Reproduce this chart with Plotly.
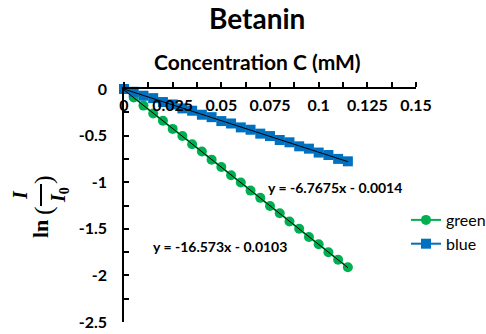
import plotly.graph_objects as go

# Concentration (mM) and ln(I/I0) readings for the two channels
conc = [0.000, 0.005, 0.010, 0.015, 0.020, 0.025, 0.030, 0.035, 0.040, 0.045,
        0.050, 0.055, 0.060, 0.065, 0.070, 0.075, 0.080, 0.085, 0.090, 0.095,
        0.100, 0.105, 0.110, 0.115]
green_vals = [0.000, -0.090, -0.178, -0.262, -0.340, -0.428, -0.505, -0.592,
              -0.670, -0.758, -0.836, -0.925, -1.003, -1.090, -1.168, -1.255,
              -1.334, -1.421, -1.500, -1.588, -1.665, -1.752, -1.832, -1.912]
blue_vals = [0.000, -0.030, -0.072, -0.098, -0.140, -0.166, -0.208, -0.233,
             -0.276, -0.302, -0.344, -0.370, -0.412, -0.437, -0.479, -0.505,
             -0.547, -0.572, -0.615, -0.640, -0.682, -0.708, -0.750, -0.776]

# Linear trendline coefficients (slope, intercept)
green_fit = (-16.573, -0.0103)
blue_fit = (-6.7675, -0.0014)

x_ticks = [0, 0.025, 0.05, 0.075, 0.1, 0.125, 0.15]
x_tick_text = ["0", "0.025", "0.05", "0.075", "0.1", "0.125", "0.15"]
y_ticks = [0, -0.5, -1, -1.5, -2, -2.5]
y_tick_text = ["0", "-0.5", "-1", "-1.5", "-2", "-2.5"]

W, H = 486, 334
L, R, T, B = 124, 70, 89, 12
PW, PH = W - L - R, H - T - B

GREEN = "#00B050"
BLUE = "#0070C0"
FONT = "Lato"
SERIF = "Liberation Serif"


def px(xp):
    return (xp - L) / PW


def py(yp):
    return (H - B - yp) / PH


fig = go.Figure()

fig.add_trace(go.Scatter(
    x=conc, y=green_vals, name="green", mode="lines+markers",
    line=dict(color=GREEN, width=2),
    marker=dict(symbol="circle", size=10, color=GREEN),
    cliponaxis=False,
))
fig.add_trace(go.Scatter(
    x=conc, y=blue_vals, name="blue", mode="lines+markers",
    line=dict(color=BLUE, width=2),
    marker=dict(symbol="square", size=10, color=BLUE),
    cliponaxis=False,
))

for slope, icpt in (green_fit, blue_fit):
    xs = [conc[0], conc[-1]]
    fig.add_trace(go.Scatter(
        x=xs, y=[slope * v + icpt for v in xs], mode="lines",
        line=dict(color="black", width=1), showlegend=False,
        hoverinfo="skip", cliponaxis=False,
    ))

fig.update_layout(
    width=W, height=H,
    margin=dict(l=L, r=R, t=T, b=B, autoexpand=False),
    paper_bgcolor="white", plot_bgcolor="white",
    showlegend=True,
    legend=dict(x=px(406), y=py(203), xanchor="left", yanchor="top",
                font=dict(family=FONT, size=16, color="black"),
                bgcolor="rgba(0,0,0,0)", tracegroupgap=0),
    font=dict(family=FONT, color="black"),
)

fig.update_xaxes(
    range=[0, 0.15], side="top", showgrid=False, zeroline=False,
    showline=True, linecolor="black", linewidth=1.5,
    tickvals=x_ticks, ticktext=x_tick_text,
    ticks="outside", ticklen=5, tickcolor="black", tickwidth=1.5,
    ticklabelposition="inside", ticklabelstandoff=11,
    ticklabeloverflow="allow",
    minor=dict(dtick=0.0125, ticks="outside", ticklen=5,
               tickcolor="black", tickwidth=1.5),
    tickfont=dict(family=FONT, size=16, color="black", weight="bold"),
    automargin=False,
)
fig.update_yaxes(
    range=[-2.5, 0], showgrid=False, zeroline=False,
    showline=True, linecolor="black", linewidth=1.5,
    tickvals=y_ticks, ticktext=y_tick_text,
    ticks="inside", ticklen=5, tickcolor="black", tickwidth=1.5,
    ticklabelstandoff=12, ticklabeloverflow="allow",
    minor=dict(dtick=0.25, ticks="inside", ticklen=5,
               tickcolor="black", tickwidth=1.5),
    tickfont=dict(family=FONT, size=16, color="black", weight="bold"),
    automargin=False,
)

ann = []
# Chart title and x-axis title
ann.append(dict(text="<b>Betanin</b>", x=px(257), y=py(18),
                font=dict(family=FONT, size=28, color="black")))
ann.append(dict(text="<b>Concentration C (mM)</b>", x=px(257), y=py(61),
                font=dict(family=FONT, size=21, color="black")))
# Trendline equations
ann.append(dict(text="<b>y = -6.7675x - 0.0014</b>", x=px(335), y=py(187),
                font=dict(family=FONT, size=14, color="black")))
ann.append(dict(text="<b>y = -16.573x - 0.0103</b>", x=px(220), y=py(246),
                font=dict(family=FONT, size=14, color="black")))
# y-axis title: ln( I / I0 ), rotated, with a stacked fraction
ann.append(dict(text="<b>ln</b>", x=px(41), y=py(229), textangle=-90,
                font=dict(family=SERIF, size=22, color="black")))
ann.append(dict(text="(", x=px(43), y=py(211), textangle=-90,
                font=dict(family=SERIF, size=26, color="black")))
ann.append(dict(text=")", x=px(43), y=py(180), textangle=-90,
                font=dict(family=SERIF, size=26, color="black")))
ann.append(dict(text="<b><i>I</i></b>", x=px(20), y=py(195), textangle=-90,
                font=dict(family=SERIF, size=20, color="black")))
ann.append(dict(text="<b><i>I</i><sub>0</sub></b>", x=px(59), y=py(195),
                textangle=-90,
                font=dict(family=SERIF, size=20, color="black")))
for a in ann:
    a.update(xref="paper", yref="paper", showarrow=False,
             xanchor="center", yanchor="middle")
fig.update_layout(annotations=ann)

# Fraction bar of the y-axis title
fig.add_shape(type="line", xref="paper", yref="paper",
              x0=px(41), x1=px(41), y0=py(184), y1=py(206),
              line=dict(color="black", width=2))

fig.write_html("out.html")
